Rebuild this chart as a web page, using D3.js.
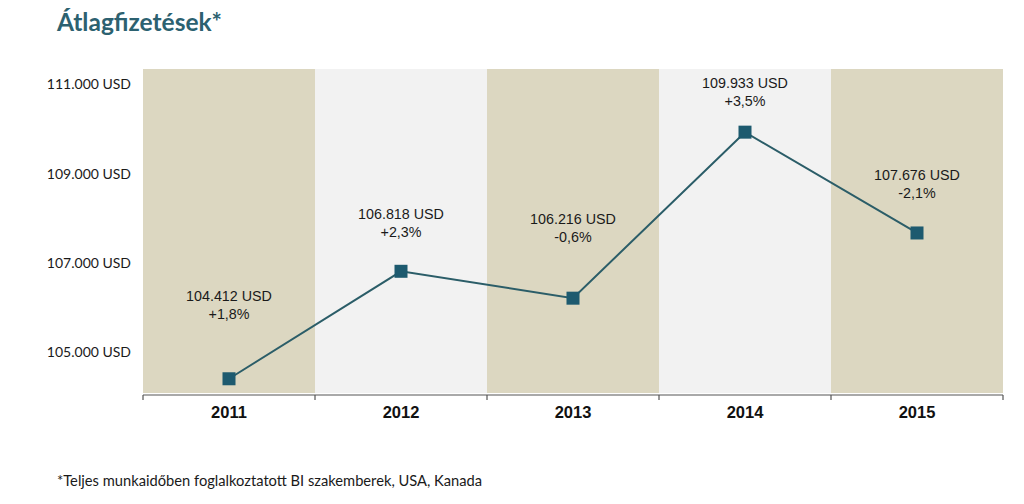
<!DOCTYPE html>
<html>
<head>
<meta charset="utf-8">
<script src="https://cdn.jsdelivr.net/npm/d3@7"></script>
<style>
  body { margin: 0; background: #fff; }
  svg { display: block; }
</style>
</head>
<body>
<div class="chart"></div>
<script>
const years = ['2011', '2012', '2013', '2014', '2015'];
const salaries = [104412, 106818, 106216, 109933, 107676];
const changes = ['+1,8%', '+2,3%', '-0,6%', '+3,5%', '-2,1%'];
const yTicks = [105000, 107000, 109000, 111000];

// how far above each marker the two-line label sits (hand placed in the original)
const labelLift = [78, 52, 74, 44, 53];

const width = 1024;
const height = 504;

const svg = d3
    .select('div.chart')
    .append('svg')
    .attr('width', width)
    .attr('height', height);

const x = d3.scaleBand().domain(years).range([143, 1003]);
const y = d3.scaleLinear().domain([105000, 111000]).range([352.5, 84.5]);

const numFmt = d3.formatLocale({decimal: ',', thousands: '.', grouping: [3]}).format(',d');

// title
svg.append('text')
    .attr('x', 57)
    .attr('y', 31)
    .attr('font-family', 'Lato, sans-serif')
    .attr('font-weight', 'bold')
    .attr('font-size', '24.5px')
    .attr('fill', '#2c6170')
    .text('Átlagfizetések*');

// alternating column backgrounds
svg.selectAll('rect.band')
    .data(years)
    .enter()
    .append('rect')
    .attr('class', 'band')
    .attr('x', (d) => x(d))
    .attr('y', 69)
    .attr('width', x.bandwidth())
    .attr('height', 324)
    .attr('fill', (d, i) => i % 2 === 0 ? '#dcd7c1' : '#f2f2f2');

// y labels
svg.selectAll('text.ytick')
    .data(yTicks)
    .enter()
    .append('text')
    .attr('class', 'ytick')
    .attr('x', 131)
    .attr('y', (d) => y(d))
    .attr('dy', '0.35em')
    .attr('text-anchor', 'end')
    .attr('font-family', 'Lato, sans-serif')
    .attr('font-size', '14px')
    .attr('fill', '#1a1a1a')
    .text((d) => numFmt(d) + ' USD');

// x axis
const axisY = 395;
const xAxis = svg.append('g').attr('transform', 'translate(0,' + axisY + ')');
xAxis.append('line')
    .attr('x1', 143)
    .attr('x2', 1003)
    .attr('stroke', '#555')
    .attr('stroke-width', 1.2);
xAxis.selectAll('line.tick')
    .data(years.concat(['end']))
    .enter()
    .append('line')
    .attr('class', 'tick')
    .attr('x1', (d) => d === 'end' ? 1003 : x(d))
    .attr('x2', (d) => d === 'end' ? 1003 : x(d))
    .attr('y1', 0)
    .attr('y2', 5)
    .attr('stroke', '#555')
    .attr('stroke-width', 1.2);
xAxis.selectAll('text')
    .data(years)
    .enter()
    .append('text')
    .attr('x', (d) => x(d) + x.bandwidth() / 2)
    .attr('y', 23)
    .attr('text-anchor', 'middle')
    .attr('font-family', 'Liberation Sans, Arial, sans-serif')
    .attr('font-weight', 'bold')
    .attr('font-size', '16.5px')
    .attr('fill', '#111')
    .text((d) => d);

// line
const line = d3.line()
    .x((d, i) => x(years[i]) + x.bandwidth() / 2)
    .y((d) => y(d));

svg.append('path')
    .datum(salaries)
    .attr('d', line)
    .attr('fill', 'none')
    .attr('stroke', '#2b5d68')
    .attr('stroke-width', 2);

svg.selectAll('rect.marker')
    .data(salaries)
    .enter()
    .append('rect')
    .attr('class', 'marker')
    .attr('x', (d, i) => x(years[i]) + x.bandwidth() / 2 - 6.5)
    .attr('y', (d) => y(d) - 6.5)
    .attr('width', 13)
    .attr('height', 13)
    .attr('fill', '#1d5a6f');

// value labels
const labels = svg.selectAll('text.val')
    .data(salaries)
    .enter()
    .append('text')
    .attr('class', 'val')
    .attr('text-anchor', 'middle')
    .attr('font-family', 'Liberation Sans, Arial, sans-serif')
    .attr('font-size', '14.3px')
    .attr('fill', '#1a1a1a');

labels.append('tspan')
    .attr('x', (d, i) => x(years[i]) + x.bandwidth() / 2)
    .attr('y', (d, i) => y(d) - labelLift[i])
    .text((d) => numFmt(d) + ' USD');

labels.append('tspan')
    .attr('x', (d, i) => x(years[i]) + x.bandwidth() / 2)
    .attr('y', (d, i) => y(d) - labelLift[i] + 18)
    .text((d, i) => changes[i]);

// footnote
svg.append('text')
    .attr('x', 57)
    .attr('y', 486)
    .attr('font-family', 'Lato, sans-serif')
    .attr('font-size', '14.7px')
    .attr('fill', '#1a1a1a')
    .text('*Teljes munkaidőben foglalkoztatott BI szakemberek, USA, Kanada');
</script>
</body>
</html>
